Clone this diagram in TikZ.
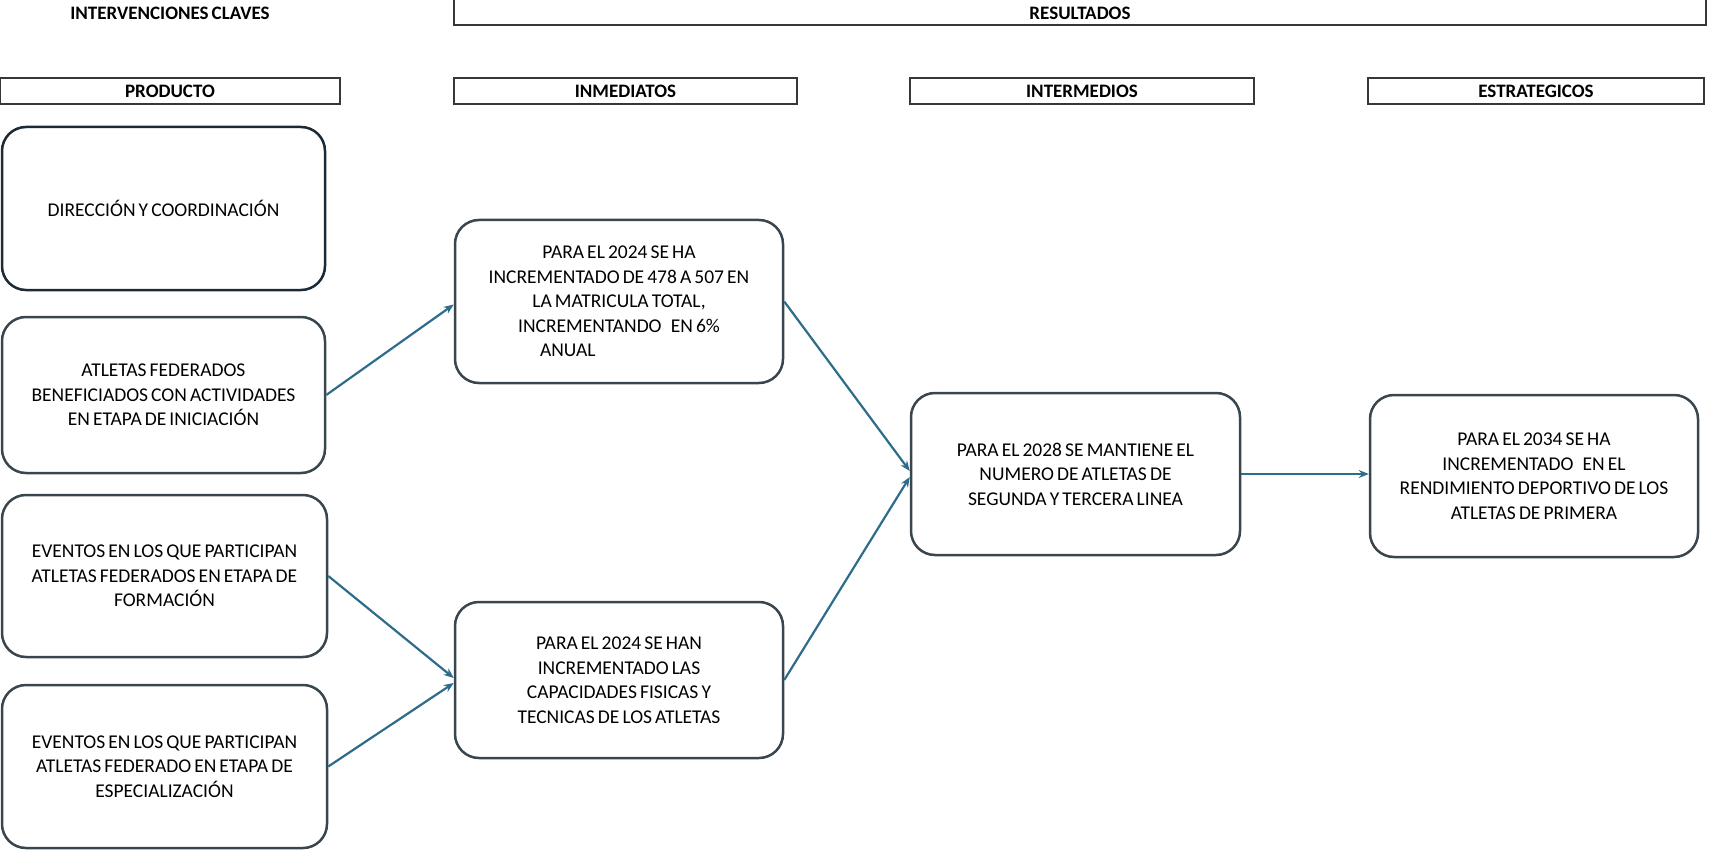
\documentclass[tikz,border=0pt]{standalone}
\usepackage{fontspec}
\setmainfont{Carlito}[WordSpace=0.7]
\usetikzlibrary{arrows.meta}
\definecolor{boxline}{RGB}{58,70,78}
\definecolor{boxdark}{RGB}{28,42,54}
\definecolor{arrowc}{RGB}{45,108,138}
\definecolor{hdrline}{RGB}{55,55,55}
\begin{document}
\begin{tikzpicture}[x=1pt,y=-1pt,
  hdr/.style={draw=hdrline, line width=1.2pt, font=\bfseries\fontsize{19}{22}\selectfont, inner sep=0pt},
  hdrtext/.style={font=\bfseries\fontsize{19}{22}\selectfont, inner sep=0pt},
  rbox/.style={draw=boxline, line width=2.5pt, rounded corners=24pt, align=center,
    font=\fontsize{19.5}{24.5}\selectfont, inner sep=0pt},
  conn/.style={draw=arrowc, line width=2.2pt, -{Stealth[length=10pt,width=8pt]}}]
\useasboundingbox (0,0) rectangle (1723,850);

% headers
\node[hdrtext] (hint) at (170,13) {INTERVENCIONES CLAVES};
\node[hdr, minimum width=1252, minimum height=40] (hres) at (1080,5) {};
\node[hdrtext] (hrest) at (1080,13) {RESULTADOS};
\node[hdr, minimum width=340, minimum height=26] (hprod) at (170,91) {PRODUCTO};
\node[hdr, minimum width=343, minimum height=26] (hinm) at (625.5,91) {INMEDIATOS};
\node[hdr, minimum width=344, minimum height=26] (hint2) at (1082,91) {INTERMEDIOS};
\node[hdr, minimum width=336, minimum height=26] (hest) at (1536,91) {ESTRATEGICOS};

% product boxes
\node[rbox, draw=boxdark, minimum width=323, minimum height=163] (b1) at (163.5,208.5) {DIRECCIÓN Y COORDINACIÓN};
\node[rbox, minimum width=323, minimum height=156] (b2) at (163.5,395)
  {ATLETAS FEDERADOS\\BENEFICIADOS CON ACTIVIDADES\\EN ETAPA DE INICIACIÓN};
\node[rbox, minimum width=325, minimum height=162] (b3) at (164.5,576)
  {EVENTOS EN LOS QUE PARTICIPAN\\ATLETAS FEDERADOS EN ETAPA DE\\FORMACIÓN};
\node[rbox, minimum width=325, minimum height=163] (b4) at (164.5,766.5)
  {EVENTOS EN LOS QUE PARTICIPAN\\ATLETAS FEDERADO EN ETAPA DE\\ESPECIALIZACIÓN};

% immediate results
\node[rbox, minimum width=328, minimum height=163] (i1) at (619,301.5)
  {PARA EL 2024 SE HA\\INCREMENTADO DE 478 A 507 EN\\LA MATRICULA TOTAL,\\INCREMENTANDO\ \ \ EN 6\%\\\makebox[158pt][l]{ANUAL}};
\node[rbox, minimum width=328, minimum height=156] (i2) at (619,680)
  {PARA EL 2024 SE HAN\\INCREMENTADO LAS\\CAPACIDADES FISICAS Y\\TECNICAS DE LOS ATLETAS};

% intermediate
\node[rbox, minimum width=329, minimum height=162] (m) at (1075.5,474)
  {PARA EL 2028 SE MANTIENE EL\\NUMERO DE ATLETAS DE\\SEGUNDA Y TERCERA LINEA};

% strategic
\node[rbox, minimum width=328, minimum height=162] (s) at (1534,476)
  {PARA EL 2034 SE HA\\INCREMENTADO\ \ \ EN EL\\RENDIMIENTO DEPORTIVO DE LOS\\ATLETAS DE PRIMERA};

% connectors
\draw[conn] (b2.east) -- ([yshift=-3pt]i1.west);
\draw[conn] (b3.east) -- ([yshift=2pt]i2.west);
\draw[conn] (b4.east) -- ([yshift=-3pt]i2.west);
\draw[conn] (i1.east) -- ([yshift=3pt]m.west);
\draw[conn] (i2.east) -- ([yshift=-3pt]m.west);
\draw[conn] (m.east) -- (m.east -| s.west);
\end{tikzpicture}
\end{document}
